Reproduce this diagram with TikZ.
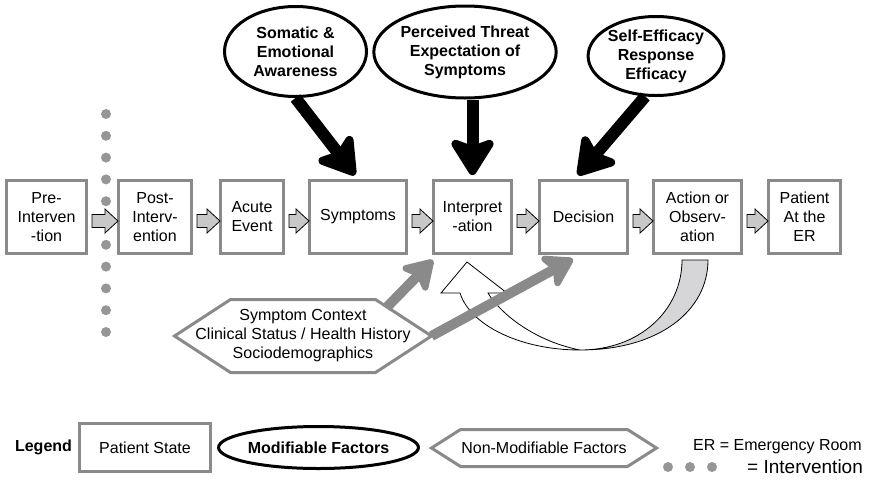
\documentclass[tikz,border=0pt]{standalone}
\usepackage{fontspec}
\setmainfont{Liberation Sans}
\usetikzlibrary{arrows.meta,shapes.geometric,calc}

\definecolor{boxgray}{RGB}{138,138,138}
\definecolor{dotgray}{RGB}{150,150,150}
\definecolor{stepgray}{RGB}{200,200,200}
\definecolor{loopgray}{RGB}{214,214,217}

\newcommand\steparrow[2]{%
  \draw[stepfill] let \p1=(#1.east), \p2=(#2.west) in
    (\x1+4pt,\y1+2.5pt) -- (\x2-12pt,\y1+2.5pt) -- (\x2-12pt,\y1+8pt)
    -- (\x2+1pt,\y1-4pt) -- (\x2-12pt,\y1-16pt) -- (\x2-12pt,\y1-10.5pt)
    -- (\x1+4pt,\y1-10.5pt) -- cycle;}

\newcommand\hexframe[2]{%
  \draw[hexline] (#1.west) -- ([xshift=#2]#1.north west) -- ([xshift=-#2]#1.north east)
    -- (#1.east) -- ([xshift=-#2]#1.south east) -- ([xshift=#2]#1.south west) -- cycle;}

\begin{document}
\begin{tikzpicture}[x=1pt,y=-1pt,font=\fontsize{16}{19}\selectfont,
  state/.style={draw=boxgray,line width=3pt,minimum height=73pt,inner sep=0pt,align=center},
  factor/.style={ellipse,draw,line width=3pt,inner sep=0pt,align=center,font=\fontsize{16}{19}\selectfont\bfseries},
  context/.style={outer sep=0pt,inner sep=0pt,align=center},
  hexline/.style={draw=boxgray,line width=3pt,line join=miter},
  stepfill/.style={fill=stepgray,draw=black,line width=0.8pt,line join=miter},
  push/.style={line width=12pt,-{Stealth[length=42pt,width=52pt,inset=9pt,round]}},
  feed/.style={draw=boxgray,line width=10pt,-{Stealth[length=34pt,width=42pt,inset=8pt,round]}}]

  \useasboundingbox (0,0) rectangle (869,480);

  \foreach \k in {0,...,10}
    \fill[dotgray] (106,{114+21.8*\k}) circle (5pt);

  \node[state,minimum width=80pt] (pre) at (46.5,217) {Pre-\\Interven\\-tion};
  \node[state,minimum width=73pt] (post) at (155,217) {Post-\\Interv-\\ention};
  \node[state,minimum width=63pt] (acute) at (252,217) {Acute\\Event};
  \node[state,minimum width=97pt] (sympt) at (358,217) {Symptoms};
  \node[state,minimum width=78pt] (interp) at (472.5,217) {Interpret\\-ation};
  \node[state,minimum width=88pt] (decide) at (583.5,217) {Decision};
  \node[state,minimum width=88pt] (action) at (697.5,217) {Action or\\Observ-\\ation};
  \node[state,minimum width=72pt] (atER) at (804.5,217) {Patient\\At the\\ER};

  \steparrow{pre}{post}
  \steparrow{post}{acute}
  \steparrow{acute}{sympt}
  \steparrow{sympt}{interp}
  \steparrow{interp}{decide}
  \steparrow{decide}{action}
  \steparrow{action}{atER}

  \node[factor,minimum width=142pt,minimum height=90pt] (soma) at (295.5,51.5) {Somatic \&\\Emotional\\Awareness};
  \node[factor,minimum width=167pt,minimum height=92pt] (threat) at (465,52) {Perceived Threat\\Expectation of\\Symptoms};
  \node[factor,minimum width=131pt,minimum height=79pt] (effic) at (656,56) {Self-Efficacy\\Response\\Efficacy};

  \draw[push] (soma.south) -- ($(sympt.north)+(-3,-4)$);
  \draw[push] (threat.south -| interp.north) -- ($(interp.north)+(0,-4)$);
  \draw[push] (effic.255) -- ($(decide.north)+(-5.5,-4)$);

  \node[context,minimum width=257pt,minimum height=73pt] (ctx) at (303,336)
    {Symptom Context\\Clinical Status / Health History\\Sociodemographics};
  \hexframe{ctx}{56pt}

  \begin{scope}[shift={(action.south)}]
    \draw[fill=loopgray,line width=0.8pt] (-117.5,95) .. controls (-37.5,95) and (10.5,55) .. (10.5,5)
      -- (-15.5,5) .. controls (-15.5,55) and (-57.5,95) .. (-117.5,95) -- cycle;
  \end{scope}
  \begin{scope}[shift={(interp.south)}]
    \draw[fill=white,line width=0.8pt,line join=miter] (-12.5,38) -- (-31.5,38) -- (-5.5,7) -- (34.5,38) -- (15.5,38)
      .. controls (25.5,55) and (57.5,85) .. (107.5,95)
      .. controls (47.5,95) and (-2.5,70) .. (-12.5,38) -- cycle;
  \end{scope}

  \draw[feed] ($(ctx.north east)+(-45,8)$) -- ($(interp.south west)+(1,5)$);
  \draw[feed] (ctx.east) -- ($(decide.south)+(-10.5,4)$);

  \node[font=\fontsize{16}{19}\selectfont\bfseries] (legend) at (43.5,447) {Legend};
  \node[state,minimum width=131pt,minimum height=48pt] (legstate) at (145,447.5) {Patient State};
  \node[factor,minimum width=164pt,minimum height=42pt] (legfactor) at (318.5,447.5) {Modifiable Factors};
  \node[context,minimum width=225pt,minimum height=37pt] (legctx) at (544,448) {Non-Modifiable Factors};
  \hexframe{legctx}{29pt}
  \node[anchor=west,inner sep=0pt] (legER) at (693,447) {ER = Emergency Room};
  \foreach \x in {668,690,712}
    \fill[dotgray] (\x,467) circle (5pt);
  \node[anchor=west,inner sep=0pt,font=\fontsize{19}{22}\selectfont] (legint) at (747,467) {= Intervention};
\end{tikzpicture}
\end{document}
